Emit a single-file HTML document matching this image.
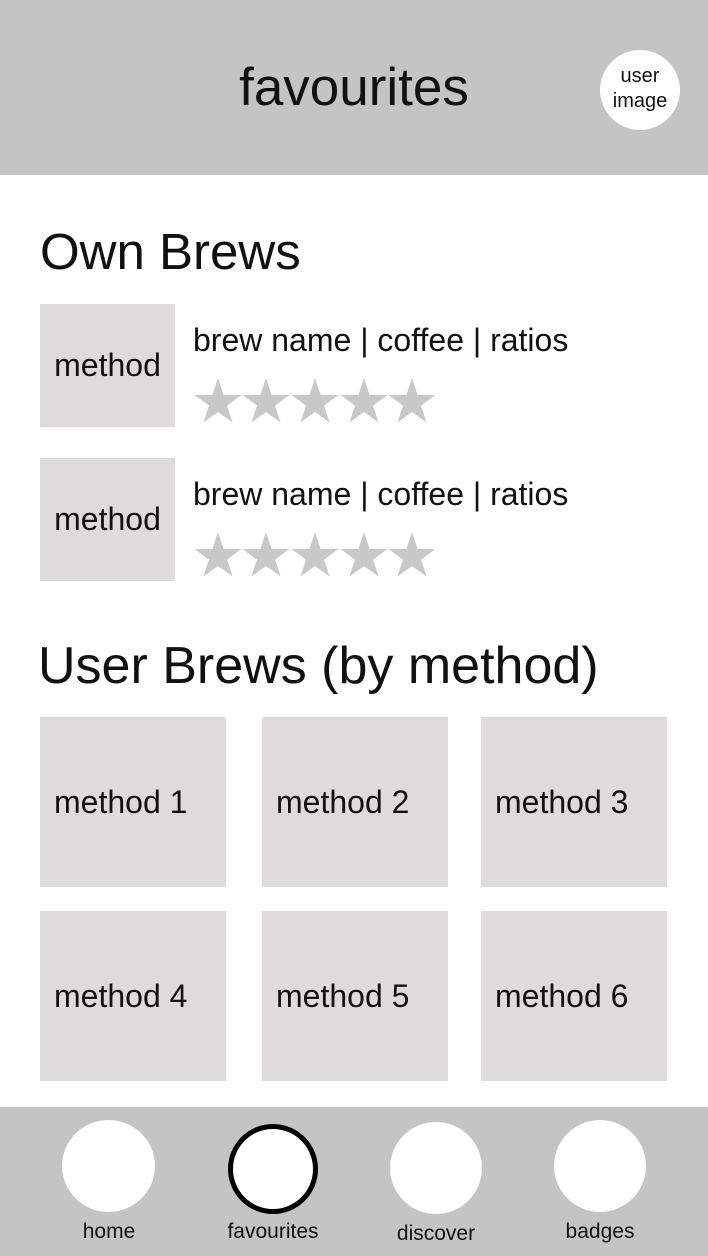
<!DOCTYPE html>
<html><head><style>
body{margin:0;width:708px;height:1256px;position:relative;background:#fff;font-family:"Liberation Sans",sans-serif;overflow:hidden;color:#111}
.a{position:absolute}
.t{background:#dedbdb}
.g{position:absolute;background:#dedbdb;width:186px;height:170px;font-size:32px;line-height:170px;box-sizing:border-box;padding-left:14px}
.c{position:absolute;background:#fff;border-radius:50%}
.l{position:absolute;font-size:21px;width:140px;text-align:center}
</style></head><body>
<div class="a" style="left:0;top:0;width:708px;height:175px;background:#c4c4c4"></div>
<div class="a" style="left:0;top:57px;width:708px;text-align:center;font-size:53px;">favourites</div>
<div class="c" style="left:600px;top:50px;width:80px;height:80px;"></div>
<div class="a" style="left:600px;top:64px;width:80px;text-align:center;font-size:20px;line-height:25px">user<br>image</div>

<div class="a" style="left:40px;top:222px;font-size:51px">Own Brews</div>
<div class="a t" style="left:40px;top:304px;width:135px;height:123px;font-size:32px;line-height:123px;text-align:center">method</div>
<div class="a" style="left:193px;top:322px;font-size:32px">brew name | coffee | ratios</div>
<div class="a t" style="left:40px;top:458px;width:135px;height:123px;font-size:32px;line-height:123px;text-align:center">method</div>
<div class="a" style="left:193px;top:476px;font-size:32px">brew name | coffee | ratios</div>
<svg class="a" style="left:0;top:0" width="708" height="700">
<defs><polygon id="st" points="24,0 29.6,17 47.5,17 33,27.6 38.6,44.5 24,34 9.4,44.5 15,27.6 0.5,17 18.4,17" fill="#c8c8c8"/></defs>
<use href="#st" x="194" y="378"/><use href="#st" x="242" y="378"/><use href="#st" x="291" y="378"/><use href="#st" x="340" y="378"/><use href="#st" x="388" y="378"/>
<use href="#st" x="194" y="532"/><use href="#st" x="242" y="532"/><use href="#st" x="291" y="532"/><use href="#st" x="340" y="532"/><use href="#st" x="388" y="532"/>
</svg>

<div class="a" style="left:38px;top:636px;font-size:52px">User Brews (by method)</div>
<div class="g" style="left:40px;top:717px">method 1</div>
<div class="g" style="left:262px;top:717px">method 2</div>
<div class="g" style="left:481px;top:717px">method 3</div>
<div class="g" style="left:40px;top:911px">method 4</div>
<div class="g" style="left:262px;top:911px">method 5</div>
<div class="g" style="left:481px;top:911px">method 6</div>

<div class="a" style="left:0;top:1107px;width:708px;height:149px;background:#c4c4c4"></div>
<div class="c" style="left:62px;top:1120px;width:93px;height:92px"></div>
<div class="c" style="left:228px;top:1124px;width:80px;height:80px;border:5px solid #000"></div>
<div class="c" style="left:390px;top:1122px;width:92px;height:92px"></div>
<div class="c" style="left:554px;top:1120px;width:92px;height:92px"></div>
<div class="l" style="left:39px;top:1220px">home</div>
<div class="l" style="left:203px;top:1220px">favourites</div>
<div class="l" style="left:366px;top:1222px">discover</div>
<div class="l" style="left:530px;top:1220px">badges</div>
</body></html>
